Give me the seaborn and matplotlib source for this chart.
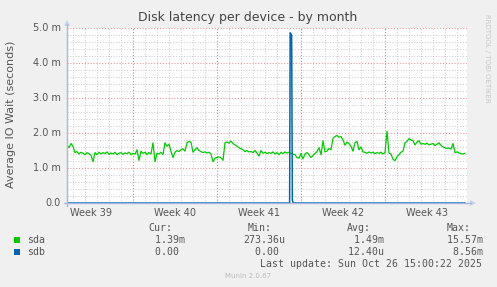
import numpy as np
import pandas as pd
import matplotlib
matplotlib.use("Agg")
import matplotlib.pyplot as plt
import seaborn as sns
from matplotlib.patches import Polygon, Rectangle
from matplotlib.lines import Line2D

# ---------------- data ----------------
title = "Disk latency per device - by month"
ylabel = "Average IO Wait (seconds)"
week_labels = ["Week 39", "Week 40", "Week 41", "Week 42", "Week 43"]
week_label_days = [2.0, 9.0, 16.0, 23.0, 30.0]
week_start_days = [5.5, 12.5, 19.5, 26.5]
y_ticks = [0, 1, 2, 3, 4, 5]
y_tick_labels = ["0.0", "1.0 m", "2.0 m", "3.0 m", "4.0 m", "5.0 m"]

sample_hours = 4  # one sda sample every 4 hours
sda_ms = [
    1.66, 1.58, 1.70, 1.62,
    1.44, 1.47, 1.40, 1.45, 1.42, 1.38, 1.44, 1.41, 1.36, 1.18,
    1.44, 1.38, 1.45, 1.40, 1.44, 1.41, 1.46, 1.39, 1.43, 1.40, 1.45,
    1.38, 1.42, 1.44, 1.39, 1.43, 1.41, 1.45, 1.38, 1.42, 1.40,
    1.52, 1.22, 1.48, 1.42, 1.45, 1.38, 1.44, 1.40, 1.72, 1.18,
    1.42, 1.40, 1.45, 1.38, 1.72, 1.62, 1.68, 1.48, 1.30, 1.45,
    1.50, 1.47, 1.52, 1.55, 1.48, 1.72, 1.76, 1.74, 1.45, 1.52,
    1.58, 1.50, 1.47, 1.44, 1.46, 1.43, 1.45, 1.40, 1.18, 1.28,
    1.30, 1.32, 1.29, 1.22, 1.72, 1.74, 1.71, 1.77, 1.70, 1.66,
    1.62, 1.58, 1.55, 1.52, 1.47, 1.50, 1.46,
    1.47, 1.44, 1.50, 1.43, 1.34, 1.50, 1.42, 1.45, 1.41, 1.44,
    1.42, 1.46, 1.40, 1.44, 1.38, 1.45, 1.41, 1.46, 1.43, 1.45,
    1.42, 1.40, 1.38, 1.30, 1.28, 1.42, 1.26, 1.40, 1.44, 1.38,
    1.30, 1.36, 1.42, 1.47, 1.58, 1.38, 1.78, 1.46, 1.48, 1.56,
    1.52, 1.85, 1.90, 1.93, 1.88, 1.90, 1.80, 1.65, 1.74, 1.70,
    1.62, 1.48, 1.72, 1.76, 1.52, 1.60, 1.46, 1.45, 1.42, 1.46,
    1.43, 1.45, 1.41, 1.44, 1.42, 1.45, 1.40, 1.44, 2.05, 1.43,
    1.40, 1.25, 1.21, 1.32, 1.38, 1.45, 1.48, 1.72, 1.76, 1.84,
    1.80, 1.78, 1.66, 1.74, 1.78, 1.68, 1.70, 1.68, 1.71, 1.66,
    1.68, 1.70, 1.64, 1.68, 1.72, 1.65, 1.60, 1.58, 1.56, 1.57,
    1.54, 1.70, 1.44, 1.46, 1.43, 1.41, 1.40, 1.42,
]
sdb_days = [0.0, 18.55, 18.60, 18.72, 18.78, 18.85, 33.17]
sdb_ms = [0.0, 0.0, 4.86, 4.80, 0.08, 0.0, 0.0]

series_names = ["sda", "sdb"]
series_colors = ["#00CC00", "#0066B3"]
cur_vals = ["1.39m", "0.00"]
min_vals = ["273.36u", "0.00"]
avg_vals = ["1.49m", "12.40u"]
max_vals = ["15.57m", "8.56m"]
last_update = "Last update: Sun Oct 26 15:00:22 2025"
version_text = "Munin 2.0.67"
watermark = "RRDTOOL / TOBI OETIKER"

# ---------------- figure ----------------
W, H = 497, 287
sns.set_style("white")
plt.rcParams["font.family"] = ["DejaVu Sans"]
fig = plt.figure(figsize=(W / 100, H / 100), dpi=100, facecolor="#F0F0F0")


def fx(x):
    return x / W


def fy(y):
    return 1 - y / H


L, R, T, B = 67, 467, 28, 203
ax = fig.add_axes([fx(L), fy(B), (R - L) / W, (B - T) / H])
ax.set_facecolor("white")
xmax = 400 / 12.0
ax.set_xlim(0, xmax)
ax.set_ylim(0, 5.0)

minor_col = "#CFCFCF"
major_col = "#EA9A9A"
dot = (0, (1, 1.6))
# minor grid (skip positions covered by major lines)
day_lines = np.arange(0.5, xmax, 1.0)
minor_y = np.arange(0.2, 5.0, 0.2)
for d in day_lines:
    if min(abs(d - w) for w in week_start_days) > 0.01:
        ax.axvline(d, color=minor_col, lw=0.75, ls=dot, zorder=1)
for v in minor_y:
    if abs(v - round(v)) > 0.01:
        ax.axhline(v, color=minor_col, lw=0.75, ls=dot, zorder=1)
# major grid
for d in week_start_days:
    ax.axvline(d, color="#E58080", lw=0.8, ls=dot, zorder=2, snap=True)
for v in y_ticks[1:]:
    ax.axhline(v, color=major_col, lw=0.8, ls=dot, zorder=2)

sda_days = np.arange(len(sda_ms)) * sample_hours / 24.0
df_a = pd.DataFrame({"day": sda_days, "ms": sda_ms})
df_b = pd.DataFrame({"day": sdb_days, "ms": sdb_ms})
sns.lineplot(data=df_a, x="day", y="ms", ax=ax, color=series_colors[0],
             lw=0.9, zorder=5, estimator=None)
sns.lineplot(data=df_b, x="day", y="ms", ax=ax, color=series_colors[1],
             lw=1.1, zorder=6, estimator=None)

for s in ax.spines.values():
    s.set_visible(False)
ax.set_xlabel("")
ax.set_ylabel("")
ax.set_xticks(week_start_days)
ax.set_xticks(day_lines, minor=True)
ax.set_xticklabels([])
ax.set_yticks(y_ticks)
ax.set_yticks(minor_y, minor=True)
ax.set_yticklabels([])
ax.tick_params(axis="both", which="major", length=3, width=0.7, color="#E09090", direction="out")
ax.tick_params(axis="both", which="minor", length=2, width=0.6, color="#BBBBBB", direction="out")

# axis lines with arrows
axis_col = "#A9B7DC"
fig.add_artist(Line2D([fx(L - 3), fx(471)], [fy(B), fy(B)], color=axis_col, lw=1.0))
fig.add_artist(Line2D([fx(L), fx(L)], [fy(B + 3), fy(24)], color=axis_col, lw=1.0))
fig.add_artist(Polygon([[fx(470), fy(B - 3)], [fx(470), fy(B + 3)], [fx(476), fy(B)]],
                       closed=True, color="#C5CFEE", lw=0))
fig.add_artist(Polygon([[fx(L - 3), fy(26)], [fx(L + 3), fy(26)], [fx(L), fy(20)]],
                       closed=True, color="#C5CFEE", lw=0))

text_col = "#555555"
# tick labels
for v, lab in zip(y_ticks, y_tick_labels):
    fig.text(fx(61), fy(B - v * 35), lab, ha="right", va="center",
             fontsize=7, color=text_col)
for d, lab in zip(week_label_days, week_labels):
    fig.text(fx(L + d * 12), fy(213), lab, ha="center", va="center",
             fontsize=7, color=text_col)

fig.text(fx(248), fy(17), title, ha="center", va="center", fontsize=9,
         color="#444444")
fig.text(fx(11), fy(114), ylabel, ha="center", va="center", rotation=90,
         fontsize=8, color=text_col)
fig.text(fx(487), fy(58), watermark, ha="center", va="center", rotation=270,
         fontsize=5, color="#C8C8C8")

# legend
mono = "DejaVu Sans Mono"
lfs = 7.1
hy = 228
for x, lab in zip([148, 248, 347, 447], ["Cur:", "Min:", "Avg:", "Max:"]):
    fig.text(fx(x), fy(hy), lab, ha="left", va="center", family=mono,
             fontsize=lfs, color=text_col)
rows_y = [240, 252]
cols = [(143, cur_vals), (243, min_vals), (342, avg_vals), (441, max_vals)]
for i, (name, col) in enumerate(zip(series_names, series_colors)):
    y = rows_y[i]
    fig.add_artist(Rectangle((fx(14), fy(y + 3)), 6 / W, 6 / H, color=col, lw=0))
    fig.text(fx(27), fy(y), name, ha="left", va="center", family=mono,
             fontsize=lfs, color=text_col)
    for x0, vals in cols:
        s = vals[i]
        if s[-1].isalpha():
            field = f"{s:>7}"
        else:
            field = f"{s:>6} "
        fig.text(fx(x0), fy(y), field, ha="left", va="center", family=mono,
                 fontsize=lfs, color=text_col)
fig.text(fx(482), fy(264), last_update, ha="right", va="center", family=mono,
         fontsize=lfs, color=text_col)
fig.text(fx(248), fy(276), version_text, ha="center", va="center",
         fontsize=5, color="#BBBBBB")

fig.savefig("out.png", dpi=100, facecolor=fig.get_facecolor())
